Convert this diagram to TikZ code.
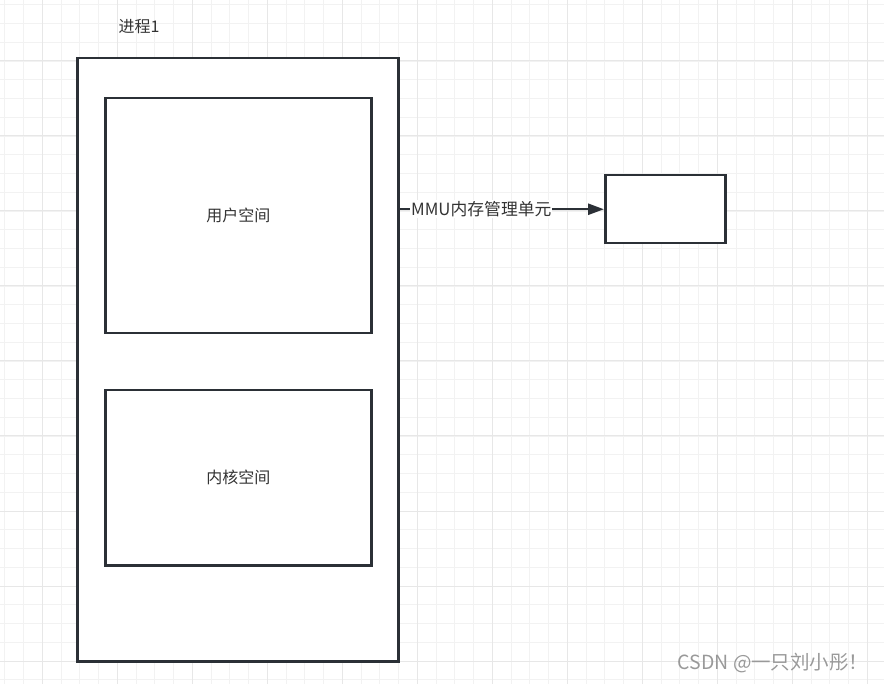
\documentclass[tikz,border=0pt]{standalone}
\usepackage{fontspec}
\setmainfont{Noto Sans CJK SC}
\usetikzlibrary{positioning, calc, arrows.meta}

\definecolor{linec}{HTML}{2B3036}
\definecolor{textc}{HTML}{333333}
\definecolor{minorc}{HTML}{F2F2F2}
\definecolor{majorc}{HTML}{E7E7E7}

\begin{document}
\begin{tikzpicture}[x=1pt, y=-1pt,
    box/.style={draw=linec, line width=2.5pt, fill=white, inner sep=0pt, anchor=north west},
    lbl/.style={text=textc, font=\fontsize{16}{19}\selectfont},
    conn/.style={draw=linec, line width=2.5pt, -{Triangle[length=16pt, width=11pt]}}]
    \useasboundingbox (0,0) rectangle (884,684);

    % Grid lines
    \foreach \i in {0,...,47} {
        \draw[minorc, line width=0.8pt] ({4.75+18.75*\i},0) -- ++(0,684);
        \draw[minorc, line width=0.8pt] (0,{4.75+18.75*\i}) -- ++(884,0);
    }
    \foreach \i in {0,...,11} {
        \draw[majorc, line width=1pt] ({42+75*\i},0) -- ++(0,684);
        \draw[majorc, line width=1pt] (0,{61+75*\i}) -- ++(884,0);
    }

    % Process box
    \node[box, minimum width=321pt, minimum height=603pt] (proc) at (76,57) {};
    \node[lbl, anchor=west] (proctitle) at (115,27) {进程1};

    % User and kernel space
    \node[box, minimum width=266pt, minimum height=235pt] (user) at (104,97) {};
    \node[lbl] at (user.center) {用户空间};
    \node[box, minimum width=266pt, minimum height=175pt] (kernel) at (104,389) {};
    \node[lbl] at (kernel.center) {内核空间};

    % Physical memory box
    \node[box, minimum width=120pt, minimum height=68pt] (mem) at (604,174) {};

    % MMU arrow
    \coordinate (mmustart) at (proc.east |- mem.west);
    \draw[conn] (mmustart) -- (mem.west)
        node[lbl, font=\fontsize{16.8}{19}\selectfont, pos=0.4, fill=white, inner sep=1pt] (mmu) {MMU内存管理单元};

    % Watermark
    \node[text=gray!80, font=\fontsize{19.5}{22}\selectfont, anchor=east] (mark) at (872,663) {CSDN @一只刘小彤！};
\end{tikzpicture}
\end{document}
